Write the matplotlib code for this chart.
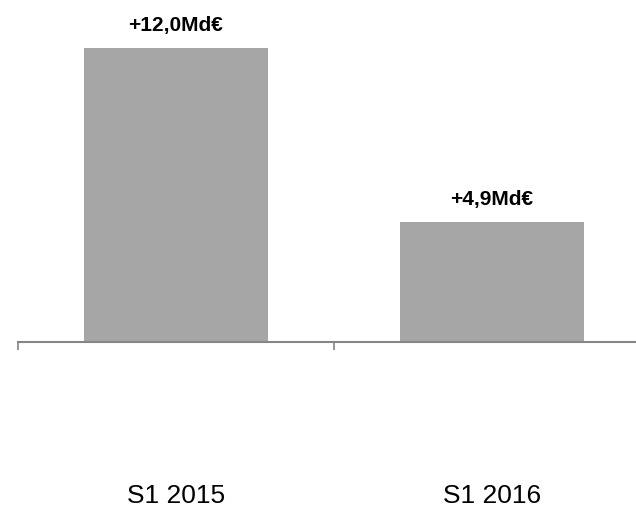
import matplotlib

matplotlib.use("Agg")
import matplotlib.pyplot as plt

categories = ["S1 2015", "S1 2016"]
values = [12.0, 4.9]
labels = ["+12,0Md€", "+4,9Md€"]

W, H, DPI = 636, 511, 100
PX_PER_UNIT = 24.5
AXIS_Y = 342
BAR_COLOR = "#a6a6a6"
AXIS_COLOR = "#868686"

plt.rcParams["font.family"] = ["Liberation Sans", "DejaVu Sans"]

fig = plt.figure(figsize=(W / DPI, H / DPI), dpi=DPI)
ax = fig.add_axes([18 / W, (H - AXIS_Y) / H, (W - 18) / W, AXIS_Y / H])

x = list(range(len(categories)))
ax.bar(x, values, width=0.58, color=BAR_COLOR, zorder=2)

for xi, v, lab in zip(x, values, labels):
    ax.annotate(lab, (xi, v), xytext=(0, 16), textcoords="offset points",
                ha="center", va="center", fontsize=15, fontweight="bold")

for s in ("top", "right", "left"):
    ax.spines[s].set_visible(False)
ax.spines["bottom"].set_color(AXIS_COLOR)
ax.spines["bottom"].set_linewidth(1.5)

ax.set_yticks([])
ax.set_xticks([-0.5, 0.5, 1.5])
ax.set_xticklabels([])
ax.tick_params(axis="x", which="major", direction="out", length=5.8,
               width=1.2, color=AXIS_COLOR)
ax.set_xticks(x, minor=True)
ax.set_xticklabels(categories, minor=True, fontsize=19)
ax.tick_params(axis="x", which="minor", length=0, pad=102)

# limits last: set_xticks would widen them otherwise
ax.set_xlim(-0.5, -0.5 + (W - 18) / 316)
ax.set_ylim(0, AXIS_Y / PX_PER_UNIT)

fig.savefig("out.png", dpi=DPI)
